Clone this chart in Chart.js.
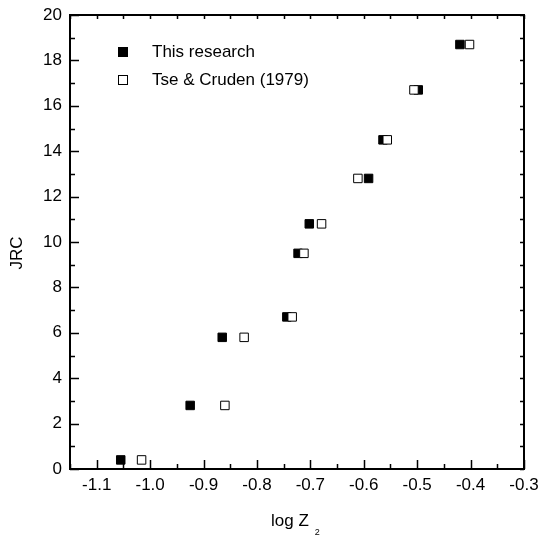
<!DOCTYPE html>
<html>
<head>
<meta charset="utf-8">
<title>JRC vs log Z2</title>
<script src="https://cdn.jsdelivr.net/npm/chart.js@4/dist/chart.umd.min.js"></script>
<style>
  html, body { margin: 0; padding: 0; background: #fff; }
  #wrap { width: 539px; height: 539px; }
</style>
</head>
<body>
<div id="wrap"><canvas id="jrcChart" width="539" height="539"></canvas></div>
<script>
// JRC values shared by both series
const jrc = [0.4, 2.8, 5.8, 6.7, 9.5, 10.8, 12.8, 14.5, 16.7, 18.7];
// log Z2 measured in this research
const logZ2This = [-1.055, -0.925, -0.865, -0.744, -0.723, -0.702, -0.591, -0.564, -0.498, -0.420];
// log Z2 from Tse & Cruden (1979)
const logZ2Tse = [-1.016, -0.860, -0.824, -0.734, -0.712, -0.679, -0.611, -0.556, -0.506, -0.402];

// axis ranges and tick labels
const xTicks = [-1.1, -1.0, -0.9, -0.8, -0.7, -0.6, -0.5, -0.4, -0.3];
const xRange = [-1.15, -0.3];
const yRange = [0, 20];
const seriesNames = ['This research', 'Tse & Cruden (1979)'];

const FONT = "'Liberation Sans', Arial, sans-serif";

function toPoints(xs, ys) {
    return xs.map((x, i) => ({ x: x, y: ys[i] }));
}

// Draws the inward tick marks, the in-plot legend and the axis titles
const framePlugin = {
    id: 'frame',
    afterDraw(chart) {
        const ctx = chart.ctx;
        const xs = chart.scales.x;
        const ys = chart.scales.y;
        const area = chart.chartArea;
        ctx.save();
        ctx.strokeStyle = '#000';
        ctx.lineWidth = 1.5;

        // bottom and top axis ticks, every 0.05
        for (let i = 0; ; i++) {
            const v = xRange[0] + i * 0.05;
            if (v > xRange[1] + 1e-9) break;
            const px = Math.round(xs.getPixelForValue(v)) + 0.5;
            const major = xTicks.some(t => Math.abs(t - v) < 1e-6);
            const len = major ? 9 : 5;
            ctx.beginPath();
            ctx.moveTo(px, area.bottom);
            ctx.lineTo(px, area.bottom - len);
            ctx.moveTo(px, area.top);
            ctx.lineTo(px, area.top + 4);
            ctx.stroke();
        }

        // left and right axis ticks, every 1 unit
        for (let v = yRange[0]; v <= yRange[1]; v++) {
            const py = Math.round(ys.getPixelForValue(v)) + 0.5;
            const len = v % 2 === 0 ? 9 : 5;
            ctx.beginPath();
            ctx.moveTo(area.left, py);
            ctx.lineTo(area.left + len, py);
            ctx.moveTo(area.right, py);
            ctx.lineTo(area.right - 4, py);
            ctx.stroke();
        }

        // legend inside the plot
        ctx.font = '17px ' + FONT;
        ctx.textBaseline = 'middle';
        ctx.textAlign = 'left';
        ctx.lineWidth = 1;
        chart.data.datasets.forEach((ds, i) => {
            const cy = 52 + i * 28;
            ctx.fillStyle = ds.backgroundColor;
            ctx.fillRect(118.5, cy - 4.5, 9, 9);
            ctx.strokeStyle = ds.borderColor;
            ctx.strokeRect(118.5, cy - 4.5, 9, 9);
            ctx.fillStyle = '#000';
            ctx.fillText(ds.label, 152, cy);
        });

        // y axis title
        ctx.fillStyle = '#000';
        ctx.font = '17px ' + FONT;
        ctx.save();
        ctx.translate(17, 253);
        ctx.rotate(-Math.PI / 2);
        ctx.textAlign = 'center';
        ctx.textBaseline = 'middle';
        ctx.fillText('JRC', 0, 0);
        ctx.restore();

        // x axis title with subscript
        ctx.textAlign = 'left';
        ctx.textBaseline = 'alphabetic';
        const main = 'log Z';
        const w = ctx.measureText(main).width;
        const x0 = 271;
        ctx.fillText(main, x0, 526);
        ctx.font = '9px ' + FONT;
        ctx.fillText('2', x0 + w + 6, 535);

        ctx.restore();
    }
};

const noGrid = { display: false, drawTicks: false, tickLength: 0 };

// fixed axis thickness, and no extra room reserved for end labels
function fixX(h) {
    return scale => {
        scale.height = h;
        scale.paddingLeft = 0;
        scale.paddingRight = 0;
    };
}
function fixY(w) {
    return scale => {
        scale.width = w;
        scale.paddingTop = 0;
        scale.paddingBottom = 0;
    };
}

const chart = new Chart(document.getElementById('jrcChart').getContext('2d'), {
    type: 'scatter',
    data: {
        datasets: [{
            label: seriesNames[0],
            data: toPoints(logZ2This, jrc),
            pointStyle: 'rect',
            pointRadius: 6,
            pointHoverRadius: 6,
            backgroundColor: '#000',
            borderColor: '#000',
            borderWidth: 1,
            order: 1
        }, {
            label: seriesNames[1],
            data: toPoints(logZ2Tse, jrc),
            pointStyle: 'rect',
            pointRadius: 6,
            pointHoverRadius: 6,
            backgroundColor: '#fff',
            borderColor: '#000',
            borderWidth: 1,
            order: 0
        }]
    },
    options: {
        responsive: false,
        animation: false,
        devicePixelRatio: 1,
        layout: { padding: { top: 15, right: 15, left: 0, bottom: 0 } },
        plugins: {
            legend: { display: false },
            tooltip: { enabled: false }
        },
        scales: {
            x: {
                type: 'linear',
                position: 'bottom',
                min: xRange[0],
                max: xRange[1],
                grid: noGrid,
                border: { display: true, color: '#000', width: 2 },
                ticks: {
                    color: '#000',
                    padding: 6,
                    font: { family: FONT, size: 17 },
                    callback: v => v.toFixed(1)
                },
                afterBuildTicks: scale => { scale.ticks = xTicks.map(v => ({ value: v })); },
                afterFit: fixX(70)
            },
            y: {
                type: 'linear',
                min: yRange[0],
                max: yRange[1],
                grid: noGrid,
                border: { display: true, color: '#000', width: 2 },
                ticks: {
                    color: '#000',
                    padding: 8,
                    stepSize: 2,
                    font: { family: FONT, size: 17 }
                },
                afterFit: fixY(70)
            },
            // mirrored frame on the top and right
            x2: {
                type: 'linear',
                position: 'top',
                min: xRange[0],
                max: xRange[1],
                grid: noGrid,
                border: { display: true, color: '#000', width: 2 },
                ticks: { display: false },
                afterFit: fixX(0)
            },
            y2: {
                type: 'linear',
                position: 'right',
                min: yRange[0],
                max: yRange[1],
                grid: noGrid,
                border: { display: true, color: '#000', width: 2 },
                ticks: { display: false },
                afterFit: fixY(0)
            }
        }
    },
    plugins: [framePlugin]
});
</script>
</body>
</html>
